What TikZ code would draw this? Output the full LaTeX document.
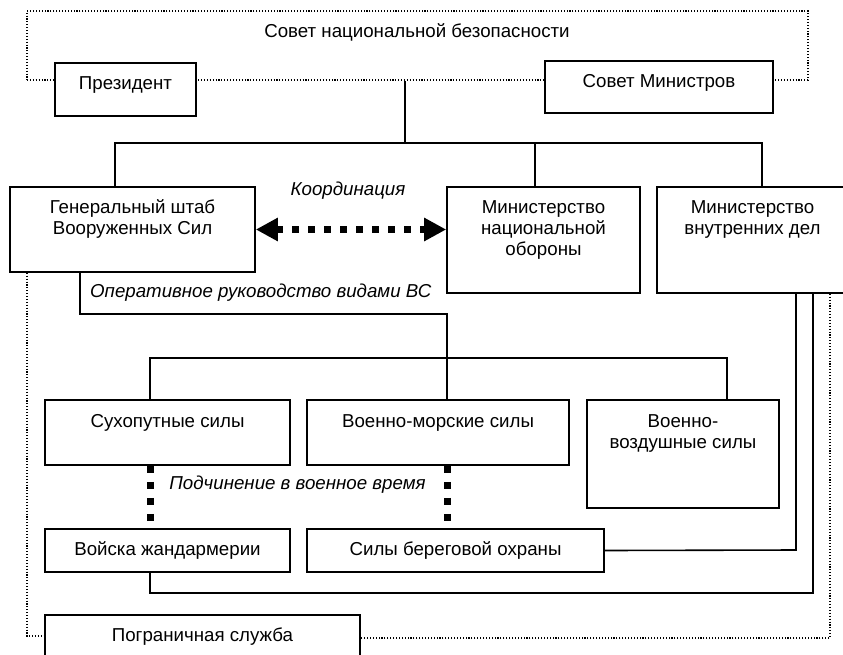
\documentclass[tikz,border=0pt]{standalone}
\usepackage{fontspec}
\setmainfont{Liberation Sans}
\usetikzlibrary{fit,arrows.meta,calc}
\begin{document}
\begin{tikzpicture}[x=1pt,y=-1pt,
  box/.style={draw, line width=1.6pt, fill=white, inner sep=0pt, rectangle},
  dotbox/.style={draw, line width=1.1pt, dash pattern=on 1.1pt off 1.8pt, inner sep=0pt, rectangle},
  txt/.style={inner sep=0pt, align=center, anchor=base, font=\fontsize{18.7}{21}\selectfont},
  itxt/.style={txt, font=\fontsize{18.7}{21}\selectfont\itshape},
  conn/.style={line width=1.6pt},
  thin dots/.style={line width=1.1pt, dash pattern=on 1.1pt off 1.8pt},
  fat dots/.style={line width=7pt, dash pattern=on 7pt off 9pt},
  fat arrow/.style={line width=7pt, dash pattern=on 7pt off 9pt,
    {Triangle[length=22pt,width=22pt]}-{Triangle[length=22pt,width=22pt]}}
]
\clip (0,0) rectangle (843,654);
\fill[white] (0,0) rectangle (843,654);

% National security council (dotted frame)
\node[dotbox, fit={(27,11) (808,80)}] (nsc) {};
\node[txt] (nscT) at (417,37) {Совет национальной безопасности};

% Top boxes
\node[box, fit={(55,63) (196,116)}] (pres) {};
\node[txt] (presT) at (125.5,89) {Президент};
\node[box, fit={(545,61) (773,113)}] (sm) {};
\node[txt] (smT) at (659,87) {Совет Министров};

% Second level (base anchor = baseline of the last line)
\node[box, fit={(10,187) (255,272)}] (gs) {};
\node[txt] (gsT) at (132.5,234) {Генеральный штаб\\Вооруженных Сил};
\node[box, fit={(447,187) (640,293)}] (mno) {};
\node[txt] (mnoT) at (543.5,255) {Министерство\\национальной\\обороны};
\node[box, fit={(657,187) (848,293)}] (mvd) {};
\node[txt] (mvdT) at (752.5,234) {Министерство\\внутренних дел};

\node[itxt] (coordT) at (348,195) {Координация};
\node[itxt, anchor=base west] (opT) at (90,297) {Оперативное руководство видами ВС};

% Services
\node[box, fit={(45,400) (290,465)}] (suh) {};
\node[txt] (suhT) at (167.5,427) {Сухопутные силы};
\node[box, fit={(307,400) (569,465)}] (vmf) {};
\node[txt] (vmfT) at (438,427) {Военно-морские силы};
\node[box, fit={(587,400) (779,508)}] (vvs) {};
\node[txt] (vvsT) at (683,448) {Военно-\\воздушные силы};

\node[itxt] (podT) at (297.5,489) {Подчинение в военное время};

\node[box, fit={(45,529) (290,572)}] (zh) {};
\node[txt] (zhT) at (167.5,555) {Войска жандармерии};
\node[box, fit={(307,529) (604,572)}] (sbo) {};
\node[txt] (sboT) at (455.5,555) {Силы береговой охраны};

\node[box, fit={(45,615) (360,680)}] (pg) {};
\node[txt] (pgT) at (202.5,641) {Пограничная служба};

% Coordinates of the buses
\coordinate (bus1) at (405,143);
\coordinate (busL) at (115,143);
\coordinate (busM) at (535,143);
\coordinate (busR) at (762,143);
\coordinate (op1) at (80,314);
\coordinate (vdrop) at (447,358);
\coordinate (bus2L) at (150,358);
\coordinate (bus2R) at (727,358);
\coordinate (sboR) at (796,550);
\coordinate (zhB) at (150,593);
\coordinate (zhR) at (813,593);
\coordinate (dR) at (830,638);
\coordinate (dL) at (27,636);

% Solid connectors
\draw[conn] (nsc.south -| bus1) -- (bus1);
\draw[conn] (gs.north -| busL) -- (busL) -- (busR) -- (mvd.north -| busR);
\draw[conn] (busM) -- (mno.north -| busM);
\draw[conn] (gs.south -| op1) -- (op1) -| (vdrop) -- (vmf.north -| vdrop);
\draw[conn] (suh.north -| bus2L) -- (bus2L) -- (bus2R) -- (vvs.north -| bus2R);
\draw[conn] (sbo.east) -- (sboR) -- (mvd.south -| sboR);
\draw[conn] (zh.south -| zhB) -- (zhB) -- (zhR) -- (mvd.south -| zhR);

% Thin dotted connectors (border service)
\draw[thin dots] (mvd.south -| dR) -- (dR) -- (pg.east |- dR);
\draw[thin dots] (gs.south -| dL) -- (dL) -- (pg.west |- dL);

% Thick dotted connectors
\draw[fat dots] (suh.south -| bus2L) -- (zh.north -| bus2L);
\draw[fat dots] (vmf.south -| vdrop) -- (sbo.north -| vdrop);
\draw[fat arrow] (gs.east) -- (gs.east -| mno.west);
\end{tikzpicture}
\end{document}
